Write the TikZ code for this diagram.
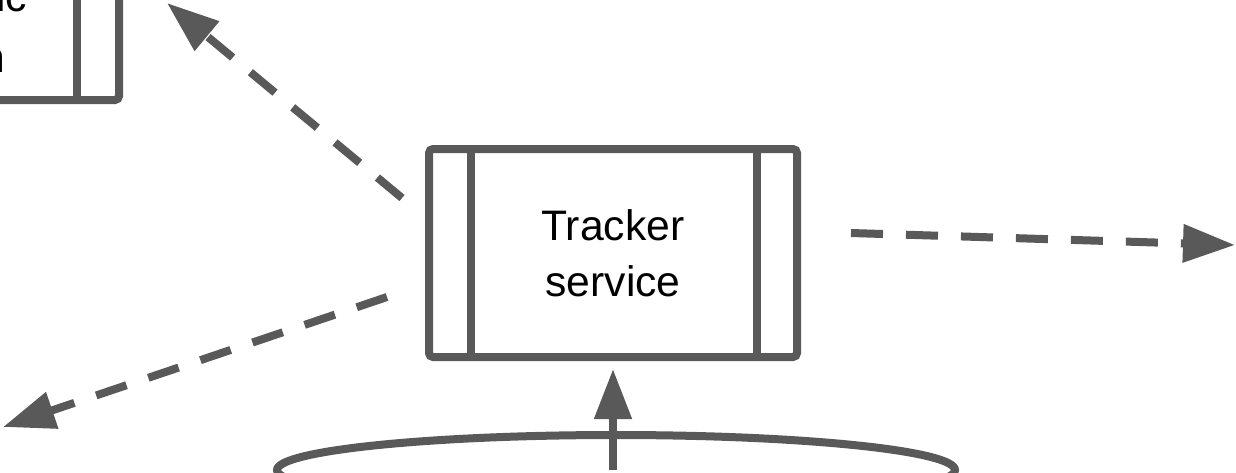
\documentclass[tikz,border=0pt]{standalone}
\usepackage{fontspec}
\setmainfont{Liberation Sans}
\usetikzlibrary{arrows.meta,shapes.geometric,calc}
\definecolor{edgegray}{RGB}{89,89,89}
\tikzset{
  boxline/.style={draw=edgegray, line width=6pt, rounded corners=3pt},
  divider/.style={draw=edgegray, line width=6pt},
  dasharrow/.style={draw=edgegray, line width=6pt, line cap=butt,
    dash pattern=on 24pt off 17.25pt,
    -{Triangle[length=39pt,width=27.5pt]}},
  solidarrow/.style={draw=edgegray, line width=6pt,
    -{Triangle[length=37.5pt,width=27pt]}},
  labeltext/.style={font=\fontsize{32}{42}\selectfont, text=black, inner sep=0pt},
}
\begin{document}
\begin{tikzpicture}[x=0.75pt,y=-0.75pt]
\useasboundingbox (0,0) rectangle (1236,472);
% partial box at top left
\node[boxline, minimum width=300pt, minimum height=150pt, inner sep=0pt] (apibox) at (-81,0) {};
\draw[divider] ($(apibox.north east)+(-46,0)$) -- ($(apibox.south east)+(-46,0)$);
\node[labeltext, anchor=base east] (icText) at (27.5,11.5) {ic};
\node[labeltext, anchor=base east] (nText) at (5.5,72) {n};
% tracker service
\node[boxline, minimum width=276pt, minimum height=156pt, inner sep=0pt,
      labeltext, align=center] (tracker) at (613,253) {Tracker\\service};
\draw[divider] ($(tracker.north west)+(46,0)$) -- ($(tracker.south west)+(46,0)$);
\draw[divider] ($(tracker.north east)+(-44,0)$) -- ($(tracker.south east)+(-44,0)$);
% bottom ellipse
\node[ellipse, draw=edgegray, line width=6pt, minimum width=508.5pt, minimum height=52.5pt, inner sep=0pt] (db) at (616,470) {};
% connectors
\coordinate (ulStart) at (402,198);
\coordinate (ulEnd) at (167,3);
\coordinate (dlStart) at (387,297);
\coordinate (dlEnd) at (3,427);
\coordinate (rStart) at (851,233);
\coordinate (rEnd) at (1235,245);
\draw[dasharrow] (ulStart) -- (ulEnd);
\draw[dasharrow] (dlStart) -- (dlEnd);
\draw[dasharrow] (rStart) -- (rEnd);
\draw[solidarrow] (tracker.south |- db.center) -- ([yshift=-6pt]tracker.south);
\end{tikzpicture}
\end{document}
